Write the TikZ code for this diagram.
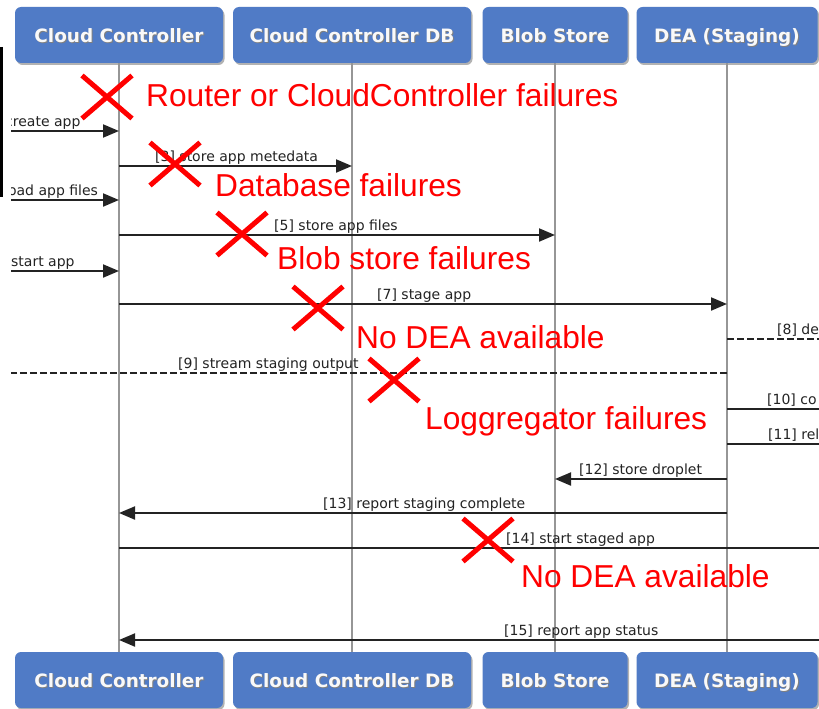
\documentclass[tikz,border=0pt]{standalone}
\usepackage{fontspec}
\setmainfont{DejaVu Sans}
\newfontfamily\redfont{Liberation Sans}
\usetikzlibrary{arrows.meta,shadows}
\definecolor{boxblue}{RGB}{80,123,198}
\definecolor{lifegray}{RGB}{150,150,150}
\definecolor{msgcol}{RGB}{35,35,35}
\definecolor{annred}{RGB}{255,0,0}
\newcommand\shtext[1]{\rlap{\kern1pt\raisebox{-1pt}{\textcolor{black!50}{#1}}}#1}
\tikzset{pics/redcross/.style={code={\draw[redx] (-25,-21.5) -- (25,21.5) (-25,21.5) -- (25,-21.5);}}}
\begin{document}
\begin{tikzpicture}[x=1pt,y=-1pt,
  hdr/.style={fill=boxblue, rounded corners=6pt, minimum height=56pt, text=white!95!gray,
    font=\fontsize{18.4}{20}\selectfont\bfseries, inner sep=0pt, text height=19pt, text depth=4pt,
    drop shadow={shadow xshift=1.5pt, shadow yshift=-2pt, fill=black, opacity=0.3}},
  life/.style={draw=lifegray, line width=2pt},
  msg/.style={draw=msgcol, line width=2pt},
  arr/.style={msg, -{Triangle[length=16pt,width=13pt]}},
  dsh/.style={msg, dash pattern=on 7pt off 3pt},
  mlab/.style={anchor=base west, inner sep=0pt, font=\fontsize{14}{16}\selectfont, text=msgcol},
  ann/.style={anchor=base west, inner sep=0pt, font=\redfont\fontsize{31.7}{34}\selectfont, text=annred},
  redx/.style={draw=annred, line width=5pt},
]
\useasboundingbox (0,0) rectangle (819,709);
\fill[white] (0,0) rectangle (819,709);

% participants
\node[hdr, minimum width=208pt] (cc)   at (119,35)   {\shtext{Cloud Controller}};
\node[hdr, minimum width=238pt] (ccdb) at (352,35)   {\shtext{Cloud Controller DB}};
\node[hdr, minimum width=145pt] (blob) at (555,35)   {\shtext{Blob Store}};
\node[hdr, minimum width=181pt] (dea)  at (727,35)   {\shtext{DEA (Staging)}};
\node[hdr, minimum width=208pt] (ccb)   at (119,680) {\shtext{Cloud Controller}};
\node[hdr, minimum width=238pt] (ccdbb) at (352,680) {\shtext{Cloud Controller DB}};
\node[hdr, minimum width=145pt] (blobb) at (555,680) {\shtext{Blob Store}};
\node[hdr, minimum width=181pt] (deab)  at (727,680) {\shtext{DEA (Staging)}};

% lifelines
\draw[life] (cc.south) -- (ccb.north);
\draw[life] (ccdb.south) -- (ccdbb.north);
\draw[life] (blob.south) -- (blobb.north);
\draw[life] (dea.south) -- (deab.north);

% black edge fragment
\draw[black, line width=2.5pt] (1.3,47) -- (1.3,197);

\coordinate (L) at (11,0);
\coordinate (R) at (822,0);
\foreach \n/\yy in {1/131,2/166,3/200,4/235,5/271,6/304,7/339,8/373,9/409,10/444,11/479,12/513,13/548,14/640}
  {\coordinate (y\n) at (0,\yy);}

\begin{scope}
\clip (11,0) rectangle (819,709);
\draw[arr] (L |- y1) -- (cc |- y1);
\node[mlab] (t1) at (5,126) {create app};
\draw[arr] (cc |- y2) -- (ccdb |- y2);
\node[mlab] (t2) at (155,161) {[3] store app metedata};
\draw[arr] (L |- y3) -- (cc |- y3);
\node[mlab] (t3) at (4,195) {load app files};
\draw[arr] (cc |- y4) -- (blob |- y4);
\node[mlab] (t4) at (274,230) {[5] store app files};
\draw[arr] (L |- y5) -- (cc |- y5);
\node[mlab] (t5) at (11,266) {start app};
\draw[arr] (cc |- y6) -- (dea |- y6);
\node[mlab] (t6) at (377,299) {[7] stage app};
\draw[dsh] (dea |- y7) -- (R |- y7);
\node[mlab] (t7) at (777,334) {[8] de};
\draw[dsh] (dea |- y8) -- (L |- y8);
\node[mlab] (t8) at (178,368) {[9] stream staging output};
\draw[msg] (dea |- y9) -- (R |- y9);
\node[mlab] (t9) at (767,404) {[10] co};
\draw[msg] (dea |- y10) -- (R |- y10);
\node[mlab] (t10) at (768,439) {[11] rel};
\draw[arr] (dea |- y11) -- (blob |- y11);
\node[mlab] (t11) at (579,474) {[12] store droplet};
\draw[arr] (dea |- y12) -- (cc |- y12);
\node[mlab] (t12) at (323,508) {[13] report staging complete};
\draw[msg] (cc |- y13) -- (R |- y13);
\node[mlab] (t13) at (506,543) {[14] start staged app};
\draw[arr] (R |- y14) -- (cc |- y14);
\node[mlab] (t14) at (504,635) {[15] report app status};
\end{scope}

% failure annotations
\pic at (107,97) {redcross};
\node[ann] (a1) at (146,106) {Router or CloudController failures};
\pic at (175,164) {redcross};
\node[ann] (a2) at (215,196) {Database failures};
\pic at (242,234) {redcross};
\node[ann] (a3) at (277,269) {Blob store failures};
\pic at (318,308) {redcross};
\node[ann] (a4) at (356,348) {No DEA available};
\pic at (394,380) {redcross};
\node[ann] (a5) at (425,429) {Loggregator failures};
\pic at (488,540) {redcross};
\node[ann] (a6) at (521,587) {No DEA available};
\end{tikzpicture}
\end{document}
